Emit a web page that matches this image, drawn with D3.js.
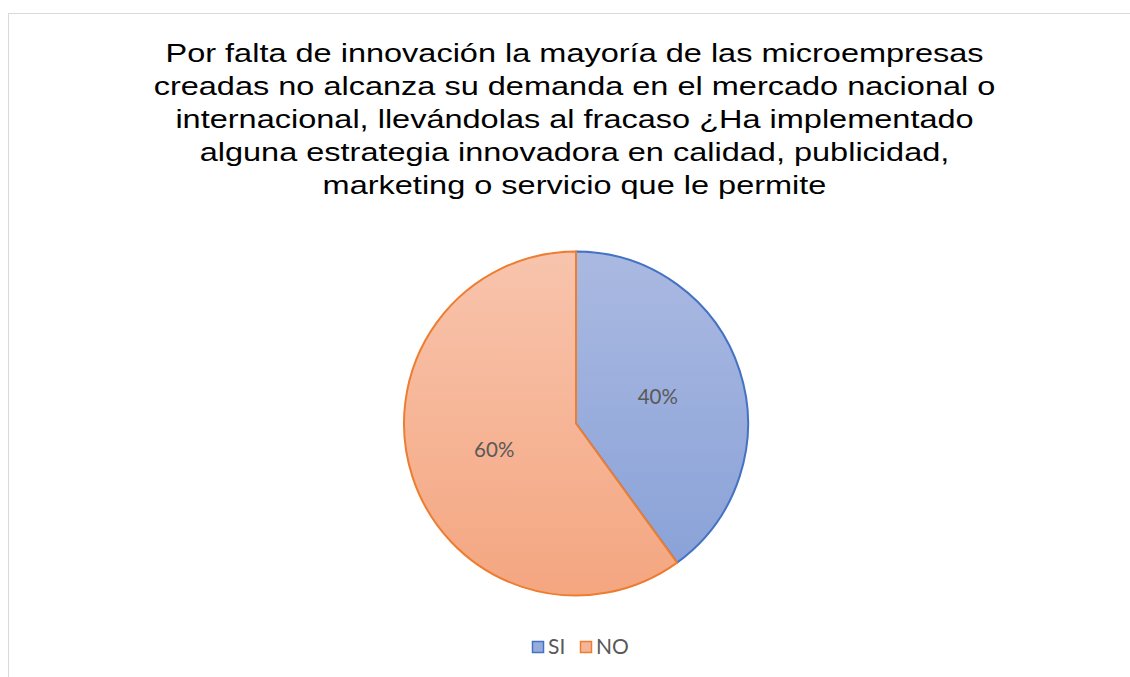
<!DOCTYPE html>
<html>
<head>
<meta charset="utf-8">
<script src="https://cdn.jsdelivr.net/npm/d3@7"></script>
<style>
  body { margin: 0; background: #fff; }
  svg { display: block; }
</style>
</head>
<body>
<svg id="chart"></svg>
<script>
// data
const categories = ["SI", "NO"];
const values = [40, 60];
const titleLines = [
    "Por falta de innovación la mayoría de las microempresas",
    "creadas no alcanza su demanda en el mercado nacional o",
    "internacional, llevándolas al fracaso ¿Ha implementado",
    "alguna estrategia innovadora en calidad, publicidad,",
    "marketing o servicio que le permite"
];

const canvWidth = 1130;
const canvHeight = 677;
const colors = {
    SI: { top: "#aab9e1", bottom: "#87a0d7", stroke: "#4472c4" },
    NO: { top: "#f8c4ad", bottom: "#f4a680", stroke: "#ed7d31" }
};

const svg = d3.select("#chart")
    .attr("width", canvWidth)
    .attr("height", canvHeight);

// chart border
svg.append("rect")
    .attr("x", 8.5).attr("y", 13.5)
    .attr("width", 1140).attr("height", 700)
    .attr("fill", "#fff")
    .attr("stroke", "#d9d9d9");

// gradients
const defs = svg.append("defs");
categories.forEach(function (c) {
    const g = defs.append("linearGradient")
        .attr("id", "grad" + c)
        .attr("gradientUnits", "userSpaceOnUse")
        .attr("x1", 0).attr("y1", -172).attr("x2", 0).attr("y2", 172);
    g.append("stop").attr("offset", "0%").attr("stop-color", colors[c].top);
    g.append("stop").attr("offset", "100%").attr("stop-color", colors[c].bottom);
});

// title (source text is stretched horizontally)
svg.append("text")
    .attr("transform", "translate(574.5,0) scale(1.3,1)")
    .attr("text-anchor", "middle")
    .attr("font-family", "Liberation Sans, Arial, sans-serif")
    .attr("font-size", 25)
    .attr("fill", "#000")
    .selectAll("tspan")
    .data(titleLines)
    .enter().append("tspan")
    .attr("x", 0)
    .attr("y", function (d, i) { return 62 + i * 33; })
    .text(function (d) { return d; });

// pie
const cx = 576, cy = 423.5, radius = 172;
const pie = d3.pie().sort(null).value(function (d) { return d.value; });
const arc = d3.arc().innerRadius(0).outerRadius(radius);
const labelArc = d3.arc().innerRadius(radius * 0.5).outerRadius(radius * 0.5);

const data = categories.map(function (c, i) { return { name: c, value: values[i] }; });
const total = d3.sum(values);

const g = svg.append("g")
    .attr("transform", "translate(" + cx + "," + cy + ")");

g.selectAll(".slice")
    .data(pie(data))
    .enter().append("path")
    .attr("class", "slice")
    .attr("d", arc)
    .attr("fill", function (d) { return "url(#grad" + d.data.name + ")"; })
    .attr("stroke", function (d) { return colors[d.data.name].stroke; })
    .attr("stroke-width", 2)
    .attr("stroke-linejoin", "round");

g.selectAll(".lbl")
    .data(pie(data))
    .enter().append("text")
    .attr("class", "lbl")
    .attr("transform", function (d) { return "translate(" + labelArc.centroid(d) + ")"; })
    .attr("text-anchor", "middle")
    .attr("dy", "0.35em")
    .attr("font-family", "Lato, Open Sans, sans-serif")
    .attr("font-size", 20.5)
    .attr("fill", "#595959")
    .text(function (d) { return Math.round(d.data.value / total * 100) + "%"; });

// legend
const legendX = [532, 580];
const legend = svg.selectAll(".legend")
    .data(data)
    .enter().append("g")
    .attr("class", "legend")
    .attr("transform", function (d, i) { return "translate(" + legendX[i] + ",641)"; });

legend.append("rect")
    .attr("x", 0.5).attr("y", 0.5)
    .attr("width", 11).attr("height", 11)
    .attr("fill", function (d) { return "url(#grad" + d.name + ")"; })
    .attr("stroke", function (d) { return colors[d.name].stroke; })
    .attr("stroke-width", 1.5);

legend.append("text")
    .attr("x", 16)
    .attr("y", 13)
    .attr("font-family", "Lato, Open Sans, sans-serif")
    .attr("font-size", 21)
    .attr("fill", "#595959")
    .text(function (d) { return d.name; });
</script>
</body>
</html>
